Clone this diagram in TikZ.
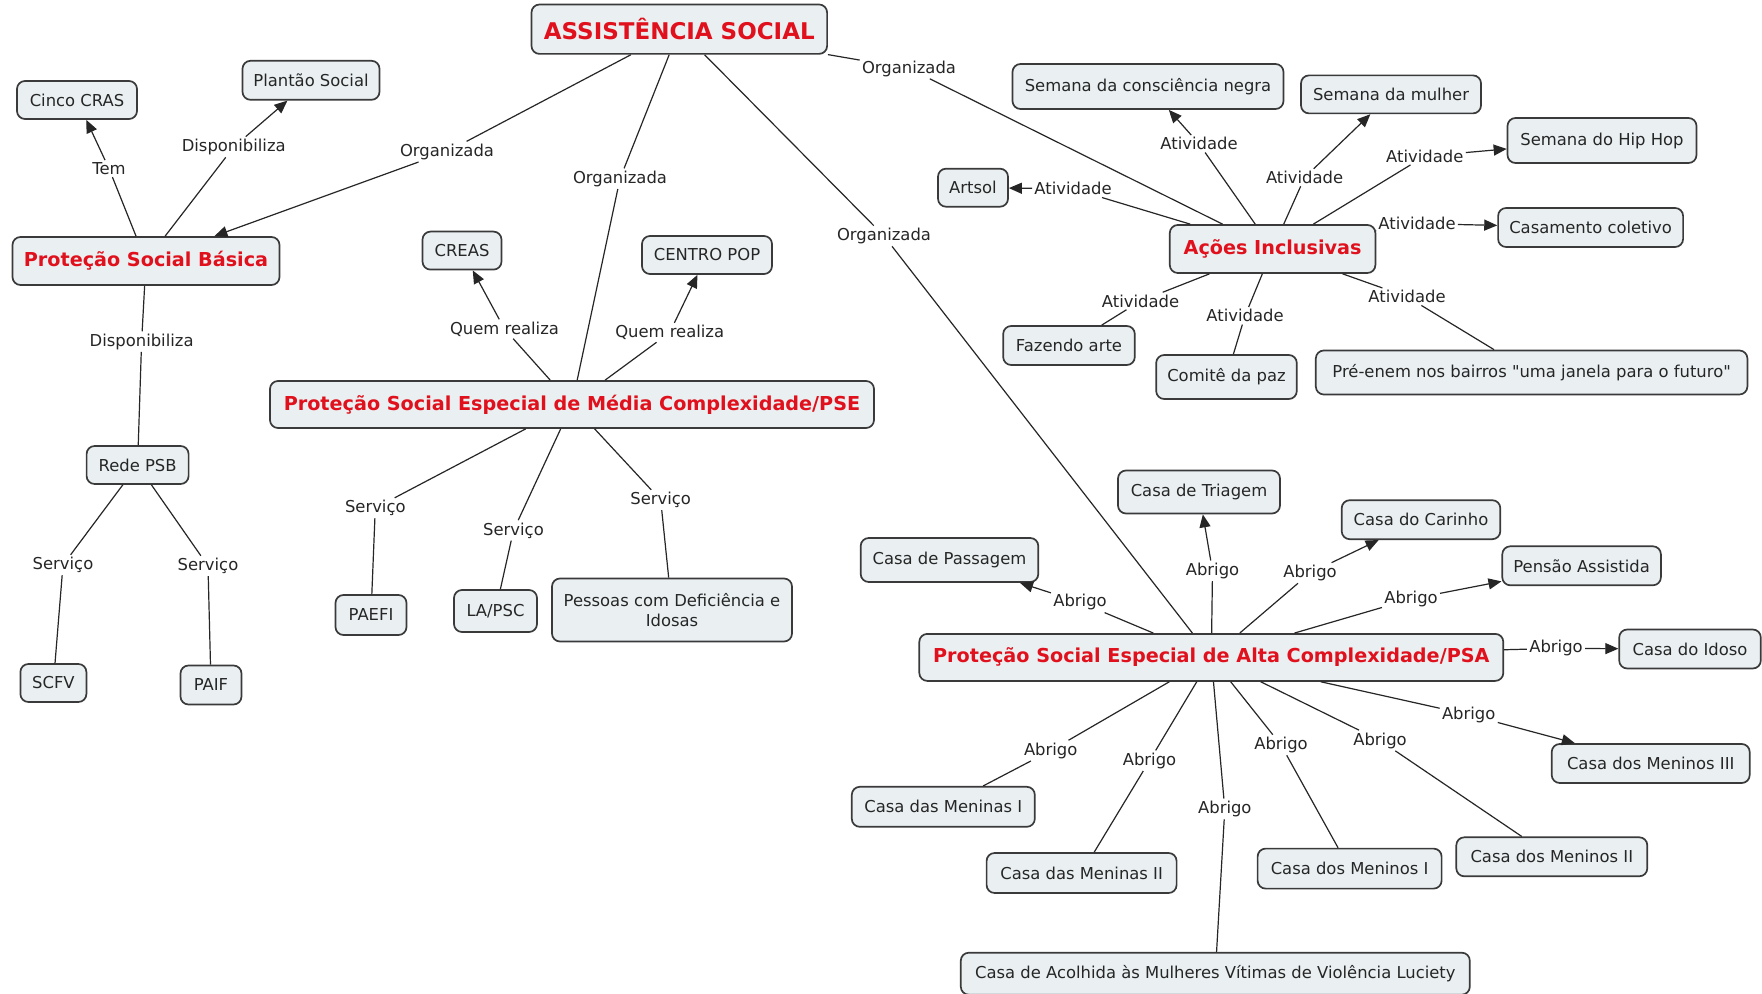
\documentclass[tikz,border=0pt]{standalone}
\usepackage{fontspec}
\setmainfont{DejaVu Sans}[Ligatures=TeXOff]
\usetikzlibrary{arrows.meta}
\definecolor{boxfill}{HTML}{EAF0F2}
\definecolor{boxline}{HTML}{3A3A3A}
\definecolor{titlered}{HTML}{E0101C}
\begin{document}
\begin{tikzpicture}[x=0.5pt,y=-0.5pt,
  concept/.style={draw=boxline, line width=0.85pt, fill=boxfill, rounded corners=4pt,
    inner sep=1pt, font=\fontsize{8.2}{10}\selectfont, text=black!85, align=center},
  title/.style={concept, font=\fontsize{9.6}{11}\selectfont\bfseries, text=titlered},
  lbl/.style={inner sep=1pt, font=\fontsize{8.2}{10}\selectfont, text=black!85},
  link/.style={draw=black!85, line width=0.6pt},
  arr/.style={link, -{Triangle[length=6.5pt,width=5.5pt]}}]
\useasboundingbox[fill=white] (0,0) rectangle (1762,994);

% concepts
\node[title, font=\fontsize{11.5}{13}\selectfont\bfseries, minimum width=147.8pt, minimum height=24.7pt] (assist) at (679.3,29.2) {ASSISTÊNCIA SOCIAL};
\node[concept, minimum width=60pt, minimum height=19pt] (cras) at (77,100) {Cinco CRAS};
\node[concept, minimum width=68.5pt, minimum height=19.5pt] (plantao) at (311,80.3) {Plantão Social};
\node[title, minimum width=133.5pt, minimum height=24pt] (psb) at (146,261) {Proteção Social Básica};
\node[concept, minimum width=39.5pt, minimum height=19pt] (creas) at (462,250.6) {CREAS};
\node[concept, minimum width=65pt, minimum height=19pt] (centro) at (707,255) {CENTRO POP};
\node[title, minimum width=302pt, minimum height=23.5pt] (pse) at (572,404.5) {Proteção Social Especial de Média Complexidade/PSE};
\node[concept, minimum width=51pt, minimum height=19pt] (rede) at (137.6,465) {Rede PSB};
\node[concept, minimum width=33pt, minimum height=19pt] (scfv) at (53.4,683) {SCFV};
\node[concept, minimum width=30.5pt, minimum height=19.5pt] (paif) at (211,685) {PAIF};
\node[concept, minimum width=35.5pt, minimum height=20pt] (paefi) at (371,615) {PAEFI};
\node[concept, minimum width=41.5pt, minimum height=21pt] (lapsc) at (495.5,611) {LA/PSC};
\node[concept, minimum width=120pt, minimum height=31.5pt] (pessoas) at (672,610) {Pessoas com Deficiência e\\Idosas};
\node[concept, minimum width=135.5pt, minimum height=22.5pt] (consc) at (1148,86.5) {Semana da consciência negra};
\node[concept, minimum width=90pt, minimum height=19pt] (mulher) at (1391,94.4) {Semana da mulher};
\node[concept, minimum width=94.5pt, minimum height=22.5pt] (hiphop) at (1602,140.5) {Semana do Hip Hop};
\node[concept, minimum width=35pt, minimum height=19pt] (artsol) at (973,187.7) {Artsol};
\node[concept, minimum width=92.5pt, minimum height=19.5pt] (casamento) at (1590.6,227.5) {Casamento coletivo};
\node[title, minimum width=102.8pt, minimum height=24pt] (acoes) at (1272.6,249) {Ações Inclusivas};
\node[concept, minimum width=65.8pt, minimum height=19.5pt] (fazendo) at (1069,345.5) {Fazendo arte};
\node[concept, minimum width=70.3pt, minimum height=22pt] (comite) at (1226.5,377) {Comitê da paz};
\node[concept, minimum width=215.8pt, minimum height=22pt] (preenem) at (1531.6,372.5) {Pré-enem nos bairros "uma janela para o futuro"};
\node[concept, minimum width=81pt, minimum height=21.5pt] (triagem) at (1199,492) {Casa de Triagem};
\node[concept, minimum width=79.3pt, minimum height=19.5pt] (carinho) at (1421,519.7) {Casa do Carinho};
\node[concept, minimum width=88.8pt, minimum height=22pt] (passagem) at (949.5,560) {Casa de Passagem};
\node[concept, minimum width=79.3pt, minimum height=19.5pt] (pensao) at (1581.6,565.8) {Pensão Assistida};
\node[title, minimum width=292pt, minimum height=23.5pt] (psa) at (1211.3,657.4) {Proteção Social Especial de Alta Complexidade/PSA};
\node[concept, minimum width=70.8pt, minimum height=19.5pt] (idoso) at (1690,649) {Casa do Idoso};
\node[concept, minimum width=99pt, minimum height=19.5pt] (meninos3) at (1650.7,763.5) {Casa dos Meninos III};
\node[concept, minimum width=91.5pt, minimum height=20pt] (meninas1) at (943.3,806.8) {Casa das Meninas I};
\node[concept, minimum width=95pt, minimum height=20pt] (meninas2) at (1081.6,873) {Casa das Meninas II};
\node[concept, minimum width=92pt, minimum height=20pt] (meninos1) at (1349.6,868.6) {Casa dos Meninos I};
\node[concept, minimum width=95.5pt, minimum height=19.5pt] (meninos2) at (1551.8,856.8) {Casa dos Meninos II};
\node[concept, minimum width=254.5pt, minimum height=21pt] (acolhida) at (1215.3,973.7) {Casa de Acolhida às Mulheres Vítimas de Violência Luciety};

% linking phrases
\node[lbl] (org1) at (909,68.5) {Organizada};
\node[lbl] (org2) at (447,151.7) {Organizada};
\node[lbl] (org3) at (620,178.7) {Organizada};
\node[lbl] (org4) at (884,236) {Organizada};
\node[lbl] (tem) at (109,168.6) {Tem};
\node[lbl] (disp1) at (233.7,147) {Disponibiliza};
\node[lbl] (disp2) at (141.6,341.6) {Disponibiliza};
\node[lbl] (qr1) at (504.5,329) {Quem realiza};
\node[lbl] (qr2) at (669.7,332.6) {Quem realiza};
\node[lbl] (sv1) at (63,565) {Serviço};
\node[lbl] (sv2) at (208,566) {Serviço};
\node[lbl] (sv3) at (375.3,508) {Serviço};
\node[lbl] (sv4) at (513.5,530.4) {Serviço};
\node[lbl] (sv5) at (660.7,500) {Serviço};
\node[lbl] (at1) at (1199,143.8) {Atividade};
\node[lbl] (at2) at (1304.6,177.5) {Atividade};
\node[lbl] (at3) at (1424.8,156.2) {Atividade};
\node[lbl] (at4) at (1073,188.8) {Atividade};
\node[lbl] (at5) at (1417,223.6) {Atividade};
\node[lbl] (at6) at (1140.5,301) {Atividade};
\node[lbl] (at7) at (1245,315.8) {Atividade};
\node[lbl] (at8) at (1407,296.7) {Atividade};
\node[lbl] (ab1) at (1080,602.3) {Abrigo};
\node[lbl] (ab2) at (1212.5,570.8) {Abrigo};
\node[lbl] (ab3) at (1310,573) {Abrigo};
\node[lbl] (ab4) at (1411,599) {Abrigo};
\node[lbl] (ab5) at (1556,648.4) {Abrigo};
\node[lbl] (ab6) at (1468.7,714.7) {Abrigo};
\node[lbl] (ab7) at (1050.7,750.6) {Abrigo};
\node[lbl] (ab8) at (1149.5,760.7) {Abrigo};
\node[lbl] (ab9) at (1224.8,809) {Abrigo};
\node[lbl] (ab10) at (1281,745) {Abrigo};
\node[lbl] (ab11) at (1380,740.5) {Abrigo};

% connections
\draw[link] (assist) -- (org1); \draw[link] (org1) -- (acoes);
\draw[link] (assist) -- (org2); \draw[arr] (org2) -- (psb);
\draw[link] (assist) -- (org3); \draw[link] (org3) -- (pse);
\draw[link] (assist) -- (org4); \draw[link] (org4) -- (psa);

\draw[link] (psb) -- (tem); \draw[arr] (tem) -- (cras);
\draw[link] (psb) -- (disp1); \draw[arr] (disp1) -- (plantao);
\draw[link] (psb) -- (disp2); \draw[link] (disp2) -- (rede);
\draw[link] (rede) -- (sv1); \draw[link] (sv1) -- (scfv);
\draw[link] (rede) -- (sv2); \draw[link] (sv2) -- (paif);

\draw[link] (pse) -- (qr1); \draw[arr] (qr1) -- (creas);
\draw[link] (pse) -- (qr2); \draw[arr] (qr2) -- (centro);
\draw[link] (pse) -- (sv3); \draw[link] (sv3) -- (paefi);
\draw[link] (pse) -- (sv4); \draw[link] (sv4) -- (lapsc);
\draw[link] (pse) -- (sv5); \draw[link] (sv5) -- (pessoas);

\draw[link] (acoes) -- (at1); \draw[arr] (at1) -- (consc);
\draw[link] (acoes) -- (at2); \draw[arr] (at2) -- (mulher);
\draw[link] (acoes) -- (at3); \draw[arr] (at3) -- (hiphop);
\draw[link] (acoes) -- (at4); \draw[arr] (at4) -- (artsol);
\draw[link] (acoes) -- (at5); \draw[arr] (at5) -- (casamento);
\draw[link] (acoes) -- (at6); \draw[link] (at6) -- (fazendo);
\draw[link] (acoes) -- (at7); \draw[link] (at7) -- (comite);
\draw[link] (acoes) -- (at8); \draw[link] (at8) -- (preenem);

\draw[link] (psa) -- (ab1); \draw[arr] (ab1) -- (passagem);
\draw[link] (psa) -- (ab2); \draw[arr] (ab2) -- (triagem);
\draw[link] (psa) -- (ab3); \draw[arr] (ab3) -- (carinho);
\draw[link] (psa) -- (ab4); \draw[arr] (ab4) -- (pensao);
\draw[link] (psa) -- (ab5); \draw[arr] (ab5) -- (idoso);
\draw[link] (psa) -- (ab6); \draw[arr] (ab6) -- (meninos3);
\draw[link] (psa) -- (ab7); \draw[link] (ab7) -- (meninas1);
\draw[link] (psa) -- (ab8); \draw[link] (ab8) -- (meninas2);
\draw[link] (psa) -- (ab9); \draw[link] (ab9) -- (acolhida);
\draw[link] (psa) -- (ab10); \draw[link] (ab10) -- (meninos1);
\draw[link] (psa) -- (ab11); \draw[link] (ab11) -- (meninos2);
\end{tikzpicture}
\end{document}
